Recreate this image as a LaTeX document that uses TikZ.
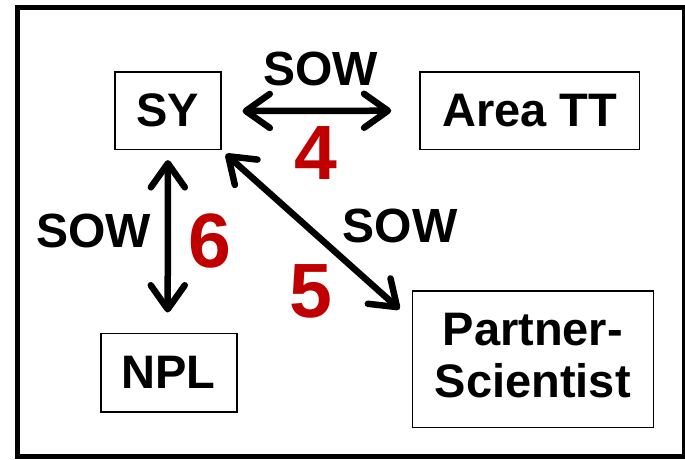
\documentclass[tikz,border=0pt]{standalone}
\usepackage{fontspec}
\setmainfont{Liberation Sans}
\usetikzlibrary{arrows.meta}
\definecolor{numred}{HTML}{C00000}
\begin{document}
\begin{tikzpicture}[x=1pt,y=-1pt,
  box/.style={draw, line width=1.6pt, inner sep=0pt, align=center,
    font=\fontsize{47}{52}\selectfont\bfseries},
  sow/.style={font=\fontsize{48}{52}\selectfont\bfseries, inner sep=0pt, anchor=base},
  num/.style={font=\fontsize{77}{80}\selectfont\bfseries, text=numred, inner sep=0pt, anchor=base},
  tipb/.tip={Straight Barb[length=24pt,width=34pt,round]},
  dbl/.style={line width=6.5pt, tipb-tipb}]
\useasboundingbox (0,0) rectangle (685,459);
\draw[line width=5pt] (17.5,7.5) rectangle (684.5,456.5);

\node[box, minimum width=105.7pt, minimum height=77.6pt] (SY) at (167.9,110.5) {SY};
\node[box, minimum width=219.3pt, minimum height=77.3pt] (TT) at (529.7,110.7) {Area TT};
\node[box, minimum width=136pt, minimum height=78.4pt] (NPL) at (168.7,372.5) {NPL};
\node[box, minimum width=241pt, minimum height=136.3pt, text depth=8pt] (PS) at (532.8,359.2) {Partner-\\Scientist};

\coordinate (a1) at ([shift={(21,0.5)}]SY.east);
\coordinate (a2) at ([shift={(-28,0)}]TT.west);
\draw[dbl] (a1) -- (a2);
\coordinate (b1) at ([shift={(0,10)}]SY.south);
\coordinate (b2) at ([shift={(-1,-20)}]NPL.north);
\draw[dbl] (b1) -- (b2);
\coordinate (c1) at ([shift={(4.3,4)}]SY.south east);
\coordinate (c2) at ([shift={(-12,19)}]PS.north west);
\draw[dbl] (c1) -- (c2);

\node[sow] (s1) at (320.5,85) {SOW};
\node[sow] (s2) at (93.5,247) {SOW};
\node[sow] (s3) at (400,242) {SOW};
\node[num] (n4) at (315.5,179) {4};
\node[num] (n6) at (210,267) {6};
\node[num] (n5) at (311,317) {5};
\end{tikzpicture}
\end{document}
